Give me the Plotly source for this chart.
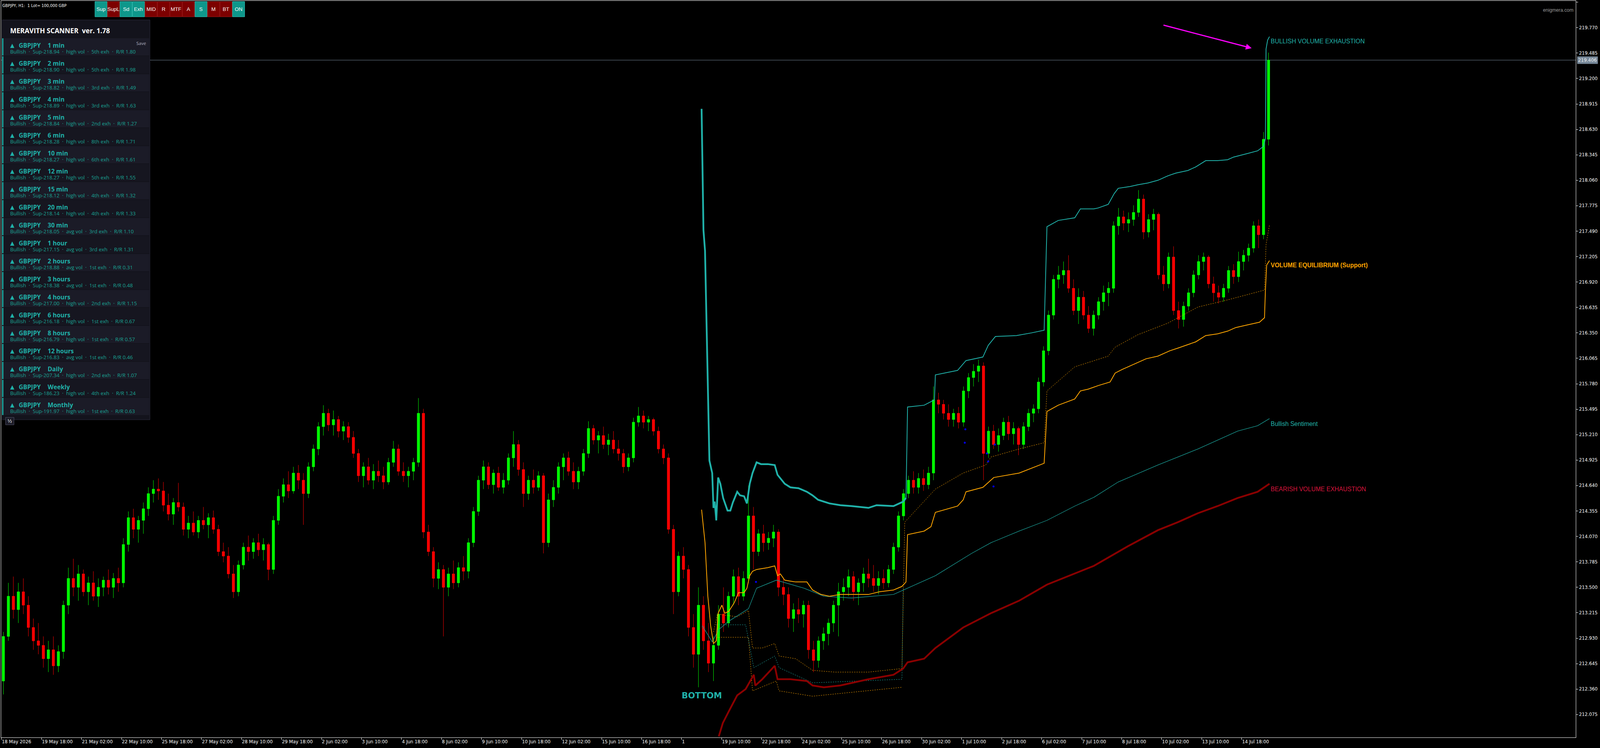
import plotly.graph_objects as go

# GBPJPY H1 chart, drawn as 4-hour candles on an hour-index x axis
candle_hour = [4 * j + 1.5 for j in range(254)]

opens = [
    212.45, 212.95, 213.40, 213.25, 213.45, 213.30, 213.05, 212.90, 212.85, 212.70,
    212.80, 212.62, 212.78, 213.30, 213.60, 213.50, 213.65, 213.45, 213.55, 213.40,
    213.50, 213.58, 213.50, 213.60, 213.55, 213.98, 214.28, 214.15, 214.25, 214.38,
    214.55, 214.60, 214.58, 214.42, 214.32, 214.45, 214.40, 214.15, 214.22, 214.12,
    214.25, 214.20, 214.28, 214.15, 213.90, 213.85, 213.65, 213.45, 213.75, 213.95,
    213.90, 214.00, 213.92, 213.98, 213.70, 214.25, 214.52, 214.65, 214.58, 214.78,
    214.70, 214.55, 214.85, 215.05, 215.30, 215.45, 215.32, 215.38, 215.25, 215.30,
    215.18, 215.00, 214.75, 214.85, 214.70, 214.80, 214.75, 214.68, 214.90, 215.05,
    214.80, 214.75, 214.80, 214.90, 215.45, 214.12, 213.90, 213.60, 213.70, 213.50,
    213.65, 213.55, 213.72, 213.68, 214.00, 214.35, 214.70, 214.85, 214.65, 214.78,
    214.62, 214.70, 214.95, 215.10, 214.82, 214.55, 214.70, 214.62, 214.75, 214.00,
    214.48, 214.62, 214.85, 214.95, 214.80, 214.68, 214.80, 215.00, 215.28, 215.15,
    215.20, 215.10, 215.15, 215.05, 215.00, 214.85, 214.95, 215.35, 215.42, 215.35,
    215.38, 215.25, 215.05, 214.95, 214.15, 213.45, 213.85, 213.70, 213.05, 212.75,
    213.30, 212.90, 212.65, 212.85, 213.20, 213.10, 213.40, 213.62, 213.40, 213.60,
    214.30, 213.90, 214.10, 214.00, 214.05, 214.12, 213.50, 213.42, 213.15, 213.25,
    213.20, 213.30, 212.80, 212.68, 212.90, 212.98, 213.10, 213.30, 213.45, 213.50,
    213.62, 213.45, 213.55, 213.65, 213.60, 213.52, 213.60, 213.55, 213.70, 213.95,
    214.30, 214.55, 214.70, 214.62, 214.72, 214.65, 214.78, 215.60, 215.55, 215.45,
    215.38, 215.45, 215.35, 215.70, 215.85, 215.92, 215.98, 215.00, 215.25, 215.10,
    215.20, 215.35, 215.22, 215.28, 215.10, 215.30, 215.45, 215.50, 215.80, 216.15,
    216.55, 216.95, 217.00, 217.05, 216.85, 216.60, 216.75, 216.55, 216.40, 216.55,
    216.70, 216.80, 216.85, 217.55, 217.65, 217.58, 217.62, 217.70, 217.85, 217.48,
    217.62, 217.68, 217.00, 216.90, 217.20, 216.60, 216.50, 216.65, 216.80, 217.00,
    217.15, 217.20, 216.90, 216.80, 216.75, 216.85, 217.05, 216.98, 217.15, 217.22,
    217.30, 217.55, 217.45, 218.52,
]
highs = [
    213.00, 213.55, 213.62, 213.55, 213.60, 213.40, 213.15, 213.10, 212.95, 212.90,
    212.95, 212.85, 213.35, 213.72, 213.82, 213.75, 213.70, 213.62, 213.68, 213.60,
    213.62, 213.70, 213.66, 213.72, 214.05, 214.35, 214.38, 214.30, 214.45, 214.62,
    214.70, 214.72, 214.68, 214.55, 214.50, 214.67, 214.45, 214.30, 214.35, 214.30,
    214.40, 214.33, 214.36, 214.20, 214.00, 213.95, 213.75, 213.80, 214.00, 214.08,
    214.05, 214.10, 214.05, 214.00, 214.30, 214.60, 214.72, 214.80, 214.85, 214.87,
    214.78, 214.90, 215.10, 215.35, 215.54, 215.50, 215.48, 215.42, 215.36, 215.35,
    215.25, 215.05, 214.90, 214.95, 214.88, 214.92, 214.85, 214.95, 215.14, 215.10,
    214.90, 214.85, 214.95, 215.62, 215.50, 214.20, 213.95, 213.78, 213.75, 213.72,
    213.80, 213.78, 213.85, 214.05, 214.40, 214.75, 214.92, 214.90, 214.82, 214.85,
    214.78, 215.00, 215.25, 215.15, 214.90, 214.75, 214.82, 214.80, 214.78, 214.55,
    214.70, 214.90, 215.00, 215.02, 214.90, 214.85, 215.05, 215.36, 215.32, 215.25,
    215.30, 215.22, 215.25, 215.15, 215.05, 215.00, 215.40, 215.52, 215.48, 215.42,
    215.40, 215.30, 215.10, 215.00, 214.20, 213.90, 213.95, 213.75, 213.20, 213.50,
    213.40, 213.10, 212.95, 213.30, 213.50, 213.45, 213.70, 213.72, 213.68, 214.64,
    214.40, 214.15, 214.20, 214.12, 214.20, 214.15, 213.60, 213.50, 213.32, 213.38,
    213.35, 213.35, 212.90, 212.95, 213.05, 213.15, 213.35, 213.55, 213.60, 213.70,
    213.68, 213.60, 213.72, 213.82, 213.75, 213.68, 213.70, 213.75, 214.00, 214.35,
    214.60, 214.75, 214.80, 214.78, 214.82, 214.85, 215.75, 215.68, 215.60, 215.55,
    215.50, 215.52, 215.75, 215.90, 216.00, 216.05, 216.02, 215.30, 215.32, 215.28,
    215.40, 215.42, 215.35, 215.30, 215.35, 215.50, 215.55, 215.85, 216.20, 216.60,
    217.00, 217.10, 217.15, 217.22, 216.95, 216.85, 216.82, 216.65, 216.60, 216.75,
    216.88, 216.92, 217.60, 217.75, 217.72, 217.70, 217.78, 217.95, 217.90, 217.68,
    217.74, 217.70, 217.10, 217.25, 217.32, 216.70, 216.70, 216.85, 217.05, 217.22,
    217.25, 217.22, 216.98, 216.88, 216.90, 217.10, 217.12, 217.26, 217.28, 217.35,
    217.60, 217.62, 218.60, 219.49,
]
lows = [
    212.30, 212.90, 213.15, 213.10, 213.20, 212.95, 212.80, 212.75, 212.60, 212.55,
    212.52, 212.55, 212.70, 213.20, 213.40, 213.35, 213.40, 213.30, 213.35, 213.28,
    213.40, 213.42, 213.38, 213.45, 213.50, 213.90, 214.05, 214.00, 214.10, 214.30,
    214.45, 214.48, 214.35, 214.25, 214.20, 214.35, 214.08, 214.05, 214.08, 214.05,
    214.15, 214.05, 214.10, 213.85, 213.78, 213.60, 213.38, 213.40, 213.70, 213.80,
    213.82, 213.85, 213.80, 213.58, 213.65, 214.20, 214.45, 214.50, 214.55, 214.60,
    214.20, 214.50, 214.80, 214.98, 215.20, 215.25, 215.20, 215.18, 215.15, 215.12,
    214.95, 214.68, 214.62, 214.65, 214.60, 214.68, 214.60, 214.65, 214.85, 214.75,
    214.68, 214.62, 214.70, 214.85, 214.05, 213.85, 213.50, 213.48, 212.95, 213.40,
    213.48, 213.50, 213.58, 213.60, 213.95, 214.30, 214.60, 214.60, 214.55, 214.58,
    214.55, 214.65, 214.85, 214.75, 214.40, 214.48, 214.55, 214.58, 213.88, 213.95,
    214.40, 214.55, 214.70, 214.75, 214.60, 214.60, 214.75, 214.95, 215.10, 215.00,
    215.05, 214.98, 215.00, 214.92, 214.78, 214.80, 214.90, 215.30, 215.28, 215.25,
    215.20, 215.00, 214.88, 214.10, 213.20, 213.40, 213.60, 212.95, 212.60, 212.38,
    212.80, 212.55, 212.45, 212.80, 213.00, 213.05, 213.30, 213.30, 213.35, 213.55,
    213.70, 213.85, 213.90, 213.92, 213.95, 213.40, 213.30, 213.05, 213.00, 213.10,
    213.05, 212.70, 212.55, 212.60, 212.80, 212.85, 213.00, 212.95, 213.35, 213.40,
    213.35, 213.30, 213.45, 213.50, 213.45, 213.42, 213.48, 213.50, 213.65, 213.90,
    214.25, 214.50, 214.55, 214.55, 214.58, 214.60, 214.70, 215.45, 215.38, 215.30,
    215.30, 215.28, 215.30, 215.62, 215.75, 215.80, 214.70, 214.95, 215.05, 215.02,
    215.15, 215.15, 215.10, 214.98, 215.05, 215.25, 215.35, 215.45, 215.75, 216.10,
    216.50, 216.85, 216.90, 216.80, 216.55, 216.45, 216.50, 216.35, 216.32, 216.50,
    216.60, 216.65, 216.80, 217.45, 217.50, 217.48, 217.55, 217.65, 217.40, 217.42,
    217.50, 216.95, 216.82, 216.85, 216.55, 216.40, 216.42, 216.60, 216.75, 216.95,
    217.05, 216.85, 216.70, 216.68, 216.70, 216.80, 216.90, 216.92, 217.05, 217.15,
    217.25, 217.30, 217.40, 218.45,
]
closes = [
    212.95, 213.40, 213.25, 213.45, 213.30, 213.05, 212.90, 212.85, 212.70, 212.80,
    212.62, 212.78, 213.30, 213.60, 213.50, 213.65, 213.45, 213.55, 213.40, 213.50,
    213.58, 213.50, 213.60, 213.55, 213.98, 214.28, 214.15, 214.25, 214.38, 214.55,
    214.60, 214.58, 214.42, 214.32, 214.45, 214.40, 214.15, 214.22, 214.12, 214.25,
    214.20, 214.28, 214.15, 213.90, 213.85, 213.65, 213.45, 213.75, 213.95, 213.90,
    214.00, 213.92, 213.98, 213.70, 214.25, 214.52, 214.65, 214.58, 214.78, 214.70,
    214.55, 214.85, 215.05, 215.30, 215.45, 215.32, 215.38, 215.25, 215.30, 215.18,
    215.00, 214.75, 214.85, 214.70, 214.80, 214.75, 214.68, 214.90, 215.05, 214.80,
    214.75, 214.80, 214.90, 215.45, 214.12, 213.90, 213.60, 213.70, 213.50, 213.65,
    213.55, 213.72, 213.68, 214.00, 214.35, 214.70, 214.85, 214.65, 214.78, 214.62,
    214.70, 214.95, 215.10, 214.82, 214.55, 214.70, 214.62, 214.75, 214.00, 214.48,
    214.62, 214.85, 214.95, 214.80, 214.68, 214.80, 215.00, 215.28, 215.15, 215.20,
    215.10, 215.15, 215.05, 215.00, 214.85, 214.95, 215.35, 215.42, 215.35, 215.38,
    215.25, 215.05, 214.95, 214.15, 213.45, 213.85, 213.70, 213.05, 212.75, 213.30,
    212.90, 212.65, 212.85, 213.20, 213.10, 213.40, 213.62, 213.40, 213.60, 214.30,
    213.90, 214.10, 214.00, 214.05, 214.12, 213.50, 213.42, 213.15, 213.25, 213.20,
    213.30, 212.80, 212.68, 212.90, 212.98, 213.10, 213.30, 213.45, 213.50, 213.62,
    213.45, 213.55, 213.65, 213.60, 213.52, 213.60, 213.55, 213.70, 213.95, 214.30,
    214.55, 214.70, 214.62, 214.72, 214.65, 214.78, 215.60, 215.55, 215.45, 215.38,
    215.45, 215.35, 215.70, 215.85, 215.92, 215.98, 215.00, 215.25, 215.10, 215.20,
    215.35, 215.22, 215.28, 215.10, 215.30, 215.45, 215.50, 215.80, 216.15, 216.55,
    216.95, 217.00, 217.05, 216.85, 216.60, 216.75, 216.55, 216.40, 216.55, 216.70,
    216.80, 216.85, 217.55, 217.65, 217.58, 217.62, 217.70, 217.85, 217.48, 217.62,
    217.68, 217.00, 216.90, 217.20, 216.60, 216.50, 216.65, 216.80, 217.00, 217.15,
    217.20, 216.90, 216.80, 216.75, 216.85, 217.05, 216.98, 217.15, 217.22, 217.30,
    217.55, 217.45, 218.52, 219.406,
]
current_price = 219.406

# indicator lines (x in hours, y in price)
bve_thick_h = [560, 561.5, 562.75, 564, 565, 566.25, 568.5, 569.5, 570.5, 571.75,
               573.25, 575, 577.25, 580.75, 583, 585, 588.5, 590.75, 594, 596.25,
               598.5, 600.75, 604, 607.5, 613, 618.5, 620.75, 626.5, 631, 637.5,
               644.25, 648.75, 653.25, 662.25, 671, 680, 693.5, 700, 713.5, 721.25, 723.5]
bve_thick_p = [218.86, 217.5, 217.27, 216.44, 215.75, 214.92, 214.78, 214.39, 214.46, 214.25,
               214.73, 214.66, 214.5, 214.36, 214.36, 214.45, 214.57, 214.53, 214.52, 214.44,
               214.66, 214.78, 214.9, 214.88, 214.88, 214.87, 214.76, 214.66, 214.62, 214.61,
               214.57, 214.53, 214.48, 214.44, 214.42, 214.41, 214.39, 214.42, 214.41, 214.46, 214.5]
bve_thin_h = [723.5, 724.75, 738, 746.25, 747, 764.75, 771.5, 785, 789.25, 795,
              811.75, 823.75, 834, 836.25, 845.25, 858.5, 863, 873.75, 877.25, 885.25,
              890, 893.25, 902.75, 909, 917, 925, 933, 939.25, 949, 955.25,
              963.25, 972.75, 980.75, 985.5, 996.75, 1004.75, 1009.5, 1011, 1011.5, 1012.75, 1014.25]
bve_thin_p = [214.5, 215.52, 215.54, 215.6, 215.88, 215.93, 216.04, 216.08, 216.21, 216.31,
              216.32, 216.35, 216.38, 217.54, 217.61, 217.64, 217.74, 217.74, 217.75, 217.79,
              217.91, 217.97, 217.99, 218.01, 218.03, 218.06, 218.11, 218.14, 218.17, 218.21,
              218.28, 218.28, 218.29, 218.32, 218.36, 218.39, 218.44, 218.53, 219.53, 219.63, 219.67]

veq_h = [560, 562.75, 565, 567.25, 569.5, 571.75, 573.25, 576.25, 578.5, 581.75,
         586.25, 589.5, 594, 596.25, 598.5, 600.75, 604, 613, 618.5, 620.75,
         623, 626.5, 635.25, 644.25, 648.75, 655.5, 662.25, 671, 693.5, 702.25,
         713.5, 720.25, 723.5, 724.75, 738, 743.5, 747, 764.75, 769.25, 771.5,
         785, 788.25, 793.75, 814, 834, 836.25, 845.25, 858.5, 863, 869.25,
         877.25, 886.75, 890.75, 896.25, 907.5, 915.5, 925, 934.5, 941, 947.25,
         955.25, 963.25, 972.75, 980.75, 987.25, 996.75, 1006.25, 1010.25, 1011, 1012, 1014.25]
veq_p = [214.37, 214.0, 213.4, 213.07, 212.87, 212.9, 213.21, 213.3, 213.21, 213.23,
         213.33, 213.44, 213.44, 213.49, 213.63, 213.68, 213.7, 213.72, 213.74, 213.63,
         213.65, 213.58, 213.56, 213.56, 213.47, 213.42, 213.4, 213.42, 213.42, 213.45,
         213.47, 213.51, 213.56, 214.09, 214.13, 214.18, 214.34, 214.41, 214.48, 214.57,
         214.62, 214.66, 214.73, 214.78, 214.89, 215.47, 215.54, 215.61, 215.7, 215.72,
         215.76, 215.8, 215.9, 215.94, 216.01, 216.06, 216.09, 216.15, 216.18, 216.21,
         216.25, 216.32, 216.34, 216.37, 216.41, 216.44, 216.47, 216.52, 216.83, 217.11, 217.16]

veq_dot_h = [569.5, 572.75, 588.5, 597.5, 600.75, 608.5, 618.5, 622, 635.25, 648.75,
             666.5, 693.5, 720.25, 722.5, 747, 769.25, 787.25, 791.5, 814, 834,
             836.25, 858.5, 885.25, 890.75, 909, 933, 957, 980.75, 1010.25, 1011.5, 1014.25]
veq_dot_p = [213.0, 213.2, 213.17, 213.24, 212.82, 212.82, 212.87, 212.73, 212.7, 212.57,
             212.55, 212.55, 212.59, 214.23, 214.6, 214.78, 214.87, 214.96, 215.05, 215.12,
             215.7, 215.97, 216.09, 216.19, 216.33, 216.46, 216.64, 216.72, 216.83, 217.34, 217.56]
veq_low_h = [571.75, 597.5, 600.75, 619.75, 622, 648.75, 720.25]
veq_low_p = [212.94, 212.94, 212.34, 212.45, 212.34, 212.28, 212.38]
sent_dot_h = [571.75, 595.25, 601.75, 618.5, 622, 648.75, 720.25, 721.25]
sent_dot_p = [213.08, 213.08, 212.6, 212.73, 212.6, 212.43, 212.47, 213.49]

sent_h = [560.5, 568.5, 574, 581.75, 597.5, 604, 619.75, 642, 657.75, 680,
          713.5, 724.75, 747, 776, 791.5, 814, 836.25, 858.5, 874, 893.25,
          925, 957, 988.75, 1004.75, 1014.25]
sent_p = [213.07, 212.89, 213.03, 213.12, 213.26, 213.49, 213.58, 213.49, 213.4, 213.38,
          213.42, 213.49, 213.63, 213.88, 214.0, 214.13, 214.25, 214.41, 214.51, 214.68,
          214.87, 215.05, 215.25, 215.31, 215.39]

bear_h = [573.75, 577, 581.75, 588.5, 595.25, 601.75, 603, 608.5, 618.5, 620.75,
          631, 644.25, 648.75, 657.75, 671, 693.5, 713.5, 721.25, 724.75, 738,
          747, 769.25, 791.5, 814, 836.25, 873.75, 901, 925, 941, 957,
          972.75, 988.75, 1004.75, 1014.25]
bear_p = [211.83, 211.98, 212.11, 212.29, 212.36, 212.52, 212.4, 212.47, 212.62, 212.47,
          212.47, 212.45, 212.4, 212.38, 212.4, 212.47, 212.52, 212.59, 212.66, 212.7,
          212.82, 213.05, 213.21, 213.35, 213.53, 213.74, 213.96, 214.14, 214.23, 214.33,
          214.41, 214.5, 214.57, 214.66]

dot_h = [603.5, 770.5, 771, 788.25, 789.25, 793.5, 794.5]
dot_p = [213.56, 215.12, 215.27, 215.0, 214.91, 214.63, 215.1]

# axes
time_tick_hours = [32 * k for k in range(32)]
time_tick_labels = ["18 May 2026", "19 May 18:00", "21 May 02:00", "22 May 10:00", "25 May 18:00",
                    "27 May 02:00", "28 May 10:00", "29 May 18:00", "2 Jun 02:00", "3 Jun 10:00",
                    "4 Jun 18:00", "8 Jun 02:00", "9 Jun 10:00", "10 Jun 18:00", "12 Jun 02:00",
                    "15 Jun 10:00", "16 Jun 18:00", "1", "19 Jun 10:00", "22 Jun 18:00",
                    "24 Jun 02:00", "25 Jun 10:00", "26 Jun 18:00", "30 Jun 02:00", "1 Jul 10:00",
                    "2 Jul 18:00", "6 Jul 02:00", "7 Jul 10:00", "8 Jul 18:00", "10 Jul 02:00",
                    "13 Jul 10:00", "14 Jul 18:00"]
price_ticks = [220.055, 219.770, 219.485, 219.200, 218.915, 218.630, 218.345, 218.060,
               217.775, 217.490, 217.205, 216.920, 216.635, 216.350, 216.065, 215.780,
               215.495, 215.210, 214.925, 214.640, 214.355, 214.070, 213.785, 213.500,
               213.215, 212.930, 212.645, 212.360, 212.075]

# scanner panel rows
timeframes = ["1 min", "2 min", "3 min", "4 min", "5 min", "6 min", "10 min", "12 min", "15 min",
              "20 min", "30 min", "1 hour", "2 hours", "3 hours", "4 hours", "6 hours", "8 hours",
              "12 hours", "Daily", "Weekly", "Monthly"]
sup_levels = [218.94, 218.90, 218.82, 218.89, 218.84, 218.28, 218.27, 218.27, 218.12, 218.14,
              218.05, 217.15, 218.88, 218.38, 217.00, 216.18, 216.79, 216.83, 207.34, 186.23, 191.97]
vol_states = ["high", "high", "high", "high", "high", "high", "high", "high", "high", "high",
              "avg", "avg", "avg", "avg", "high", "high", "high", "avg", "high", "high", "high"]
exh_counts = ["5th", "5th", "3rd", "3rd", "2nd", "8th", "6th", "5th", "4th", "4th",
              "3rd", "3rd", "1st", "1st", "2nd", "1st", "1st", "1st", "2nd", "4th", "1st"]
rr_values = [1.80, 1.98, 1.49, 1.63, 1.27, 1.71, 1.61, 1.55, 1.32, 1.33,
             1.10, 1.31, 0.31, 0.48, 1.15, 0.67, 0.57, 0.46, 1.07, 1.24, 0.63]

button_labels = ["Sup", "SupL", "Sd", "Exh", "MID", "R", "MTF", "A", "S", "M", "BT", "ON"]
button_on = [True, False, True, True, False, False, False, False, True, False, False, True]

TEAL = "#20b2aa"
NB = "\u00a0"

# the browser viewport comes out 4096 px wide, so the 5120-wide layout is
# squeezed horizontally (SX) and the fonts shrunk to keep texts in their boxes
SX, F = 0.8, 0.82
W, H = 5120, 1914
# pixel frame of the plot area in reference pixels, for the overlay widgets
L, R, T, B = 4, 5042, 2, 1887


def fx(p):
    return (p - L) / (R - L)


def fy(p):
    return 1 - (p - T) / (B - T)


shapes = []
annos = []


def box(x0, y0, x1, y1, fill, line=None):
    shapes.append(dict(type="rect", xref="paper", yref="paper", layer="above",
                       x0=fx(x0), x1=fx(x1), y0=fy(y1), y1=fy(y0), fillcolor=fill,
                       line=dict(color=line if line else fill, width=1 if line else 0)))


def text(x, y, s, size, color, family="Open Sans", xanchor="left"):
    annos.append(dict(xref="paper", yref="paper", x=fx(x), y=fy(y), text=s, showarrow=False,
                      xanchor=xanchor, yanchor="middle", borderpad=0,
                      font=dict(family=family, size=size * F, color=color)))


fig = go.Figure()

fig.add_trace(go.Candlestick(
    x=candle_hour, open=opens, high=highs, low=lows, close=closes,
    increasing=dict(line=dict(color="#00ff00", width=1), fillcolor="#00ff00"),
    decreasing=dict(line=dict(color="#ff0000", width=1), fillcolor="#ff0000"),
    whiskerwidth=0, hoverinfo="skip"))

for hx, py_, col in [(veq_dot_h, veq_dot_p, "#ffa500"), (veq_low_h, veq_low_p, "#ffa500"),
                     (sent_dot_h, sent_dot_p, TEAL)]:
    fig.add_trace(go.Scatter(x=hx, y=py_, mode="lines", line=dict(color=col, width=1, dash="dot"),
                             hoverinfo="skip"))

fig.add_trace(go.Scatter(x=sent_h, y=sent_p, mode="lines", line=dict(color="#1a9e96", width=1.3),
                         hoverinfo="skip"))
fig.add_trace(go.Scatter(x=veq_h, y=veq_p, mode="lines", line=dict(color="#ffa500", width=2),
                         hoverinfo="skip"))
fig.add_trace(go.Scatter(x=bve_thick_h, y=bve_thick_p, mode="lines", line=dict(color=TEAL, width=4.5),
                         hoverinfo="skip"))
fig.add_trace(go.Scatter(x=bve_thin_h, y=bve_thin_p, mode="lines", line=dict(color=TEAL, width=2),
                         hoverinfo="skip"))
fig.add_trace(go.Scatter(x=bear_h, y=bear_p, mode="lines", line=dict(color="#8b0000", width=4.5),
                         hoverinfo="skip"))
fig.add_trace(go.Scatter(x=dot_h, y=dot_p, mode="markers", marker=dict(color="#0000ff", size=5),
                         hoverinfo="skip"))

# current price line
shapes.append(dict(type="line", xref="paper", yref="y", x0=0, x1=1, y0=current_price, y1=current_price,
                   line=dict(color="#778899", width=1), layer="below"))
annos.append(dict(xref="paper", yref="y", x=1, y=current_price, xanchor="left", xshift=3,
                  text=f"{current_price:.3f}", showarrow=False, bgcolor="#778899", borderpad=2,
                  font=dict(family="DejaVu Sans", size=11.5, color="#f0f0f0")))

# chart labels
annos.append(dict(x=1000, y=219.54, ax=929, ay=219.80, xref="x", yref="y", axref="x", ayref="y",
                  text="", showarrow=True, arrowhead=2, arrowsize=1, arrowwidth=3, arrowcolor="#ff00ff"))
for lx, ly, s, col in [(1014.5, 219.62, "BULLISH VOLUME EXHAUSTION", TEAL),
                       (1014.5, 217.11, "<b>VOLUME EQUILIBRIUM (Support)</b>", "#ffa500"),
                       (1014.5, 215.33, "Bullish Sentiment", TEAL),
                       (1014.5, 214.60, "BEARISH VOLUME EXHAUSTION", "#dc143c")]:
    annos.append(dict(x=lx, y=ly, xref="x", yref="y", text=s, showarrow=False, xanchor="left",
                      yanchor="middle", font=dict(family="Liberation Sans", size=19 * F, color=col)))
annos.append(dict(x=560, y=212.29, xref="x", yref="y", text="<b>BOTTOM</b>", showarrow=False,
                  xanchor="center", yanchor="middle",
                  font=dict(family="DejaVu Sans", size=26 * F, color=TEAL)))

# header texts
text(7, 14, f"GBPJPY, H1:{NB} 1 Lot= 100,000 GBP", 12, "white", family="DejaVu Sans")
text(5036, 26, "enigmera.com", 15, "#9a9a9a", family="Liberation Sans", xanchor="right")

# toolbar buttons
for i, lab in enumerate(button_labels):
    x0 = 304 + 40 * i
    if button_on[i]:
        box(x0, 4, x0 + 39, 43, "#0e978b", "#35c9bd")
    else:
        box(x0, 4, x0 + 39, 43, "#7d0000", "#a31c1c")
    text(x0 + 19.5, 24, lab, 16, "white", family="Liberation Sans", xanchor="center")

# scanner panel
box(7, 51, 480, 1074, "#13131c", "#2f2f40")
text(31, 79, f"<b>MERAVITH SCANNER{NB}{NB}ver. 1.78</b>", 21, "white")
box(426, 101, 477, 119, "#22222e", "#4a4a5c")
text(451.5, 110, "Save", 14, "#b4b4c4", xanchor="center")
sep = f"{NB}{NB}·{NB}{NB}"
for r, tf in enumerate(timeframes):
    top = 98 + 46 * r
    box(11, top, 478, top + 44, "#1b1b27" if r % 2 == 0 else "#161620")
    box(7, top, 11, top + 44, TEAL)
    text(31, top + 18, "▲", 17, TEAL, family="DejaVu Sans")
    text(59, top + 18, "<b>GBPJPY</b>", 19, TEAL)
    text(152, top + 18, f"<b>{tf}</b>", 19, TEAL)
    line2 = (f"Bullish{sep}Sup-{sup_levels[r]:.2f}{sep}{vol_states[r]} vol{sep}"
             f"{exh_counts[r]} exh{sep}R/R {rr_values[r]:.2f}")
    text(31, top + 34, line2, 16, "#19a393")
box(18, 1068, 45, 1087, "#1c1c28", "#55556a")
text(31.5, 1077.5, "½", 15, "white", family="DejaVu Sans", xanchor="center")

fig.update_layout(
    width=round(W * SX), height=H,
    margin=dict(l=L * SX, r=(W - R) * SX, t=T, b=H - B, pad=0),
    paper_bgcolor="black", plot_bgcolor="black", showlegend=False,
    shapes=shapes, annotations=annos,
    xaxis=dict(range=[-0.25, 1259.25], showgrid=False, zeroline=False, showline=True,
               linecolor="white", linewidth=1, mirror=True, ticks="outside", ticklen=5,
               tickwidth=1, tickcolor="white", tickvals=time_tick_hours, ticktext=time_tick_labels,
               ticklabelposition="outside right",
               tickfont=dict(family="DejaVu Sans", size=11.5, color="white"),
               rangeslider=dict(visible=False)),
    yaxis=dict(side="right", range=[211.818, 220.071], showgrid=False, zeroline=False,
               showline=True, linecolor="white", linewidth=1, mirror=True, ticks="outside",
               ticklen=5, tickwidth=1, tickcolor="white", tickvals=price_ticks,
               ticktext=[f"{v:.3f}" for v in price_ticks],
               tickfont=dict(family="DejaVu Sans", size=11.5, color="white")),
)

fig.write_html("out.html", config={"displayModeBar": False},
               post_script="document.body.style.margin='0px';")
